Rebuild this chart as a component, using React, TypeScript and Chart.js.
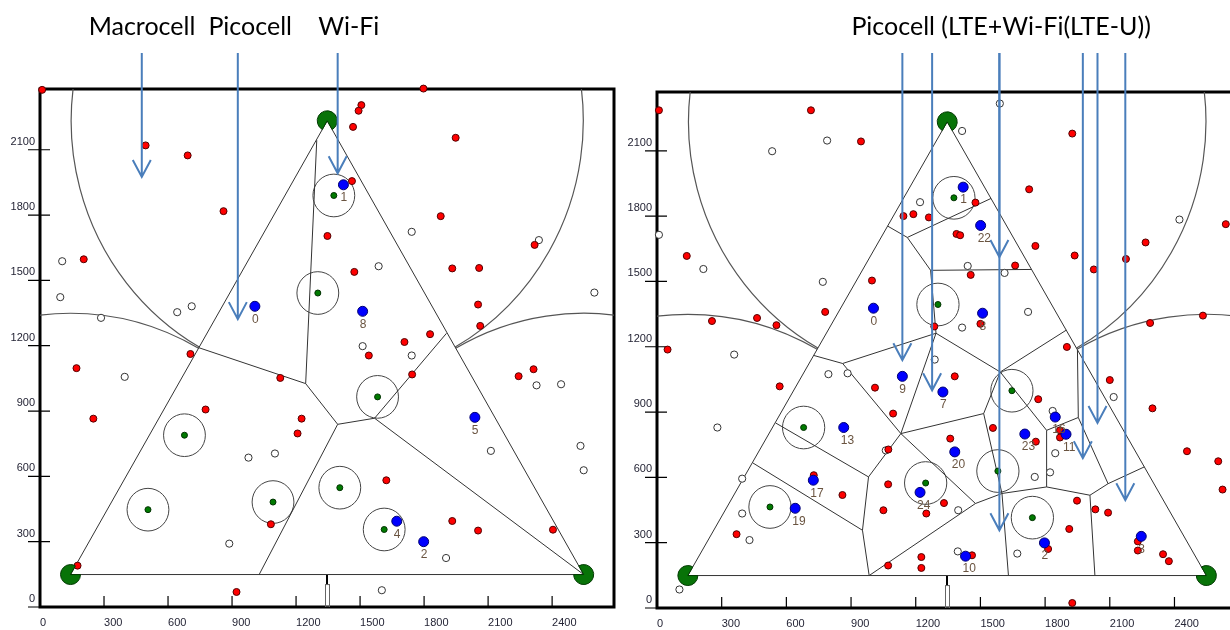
import React, { useEffect, useRef } from 'react';
import { Chart, registerables } from 'chart.js';

Chart.register(...registerables);

type Pt = [number, number];
type Seg = [number, number, number, number];

// ---------- shared axes / network geometry ----------
const xTickValues = [0, 300, 600, 900, 1200, 1500, 1800, 2100, 2400];
const yTickValues = [0, 300, 600, 900, 1200, 1500, 1800, 2100];

const macroX = [1346, 143, 2548];
const macroY = [2233, 149, 149];
const macroRange = 1200;
const macroArcFrom = [-60, 60, 0];
const macroArcTo = [240, 180, 120];
const picoRange = 98;

// ---------- left panel ----------
const leftRedUE: Pt[] = [
  [10, 2375], [495, 2120], [692, 2074], [860, 1818], [205, 1597], [705, 1162], [171, 1097], [1126, 1052],
  [250, 865], [776, 907], [1226, 865], [1207, 797], [1082, 380], [176, 190], [921, 69], [1797, 2381],
  [1506, 2305], [1493, 2279], [1467, 2205], [1948, 2155], [1462, 1956], [1878, 1795], [1347, 1704],
  [2318, 1663], [1473, 1539], [1932, 1555], [2058, 1557], [2053, 1389], [2063, 1291], [1828, 1253],
  [1708, 1217], [1541, 1155], [1744, 1068], [2243, 1060], [2313, 1092], [1623, 582], [1932, 395],
  [2053, 351], [2404, 355],
];
const leftWhiteUE: Pt[] = [
  [104, 1588], [95, 1423], [286, 1328], [643, 1354], [711, 1381], [397, 1057], [977, 686], [1101, 705],
  [887, 291], [1742, 1723], [2338, 1685], [1587, 1565], [2598, 1444], [1512, 1198], [1742, 1155],
  [2327, 1018], [2442, 1023], [2113, 717], [2533, 740], [2548, 628], [1903, 225], [1602, 77],
];
const leftWifi: Pt[] = [[1007, 1381], [1422, 1939], [1512, 1358], [2038, 871], [1672, 394], [1798, 300]];
const leftWifiLabels = ['0', '1', '8', '5', '4', '2'];
const leftPico: Pt[] = [
  [1377, 1890], [1302, 1442], [1582, 965], [677, 789], [506, 447], [1092, 482], [1405, 548], [1613, 356],
];
const leftEdges: Seg[] = [
  [1346, 2233, 143, 149], [1346, 2233, 2548, 149], [143, 149, 2548, 149],
  [744, 1191, 1245, 1026], [1297, 2144, 1245, 1026], [1245, 1026, 1395, 839], [1395, 839, 1568, 867],
  [1568, 867, 1905, 1257], [1568, 867, 2548, 149], [1395, 839, 1027, 149],
];
const leftTitles = ['Macrocell', 'Picocell', 'Wi-Fi'];
const leftTitleX = [478, 985, 1447];
const leftArrowX = [477, 927, 1395];
const leftArrowTipY = [1975, 1322, 1992];

// ---------- right panel ----------
const rightRedUE: Pt[] = [
  [9, 2286], [714, 2286], [946, 2143], [1143, 1800], [1189, 1809], [1261, 1794], [138, 1617], [997, 1504],
  [780, 1360], [255, 1318], [464, 1332], [554, 1299], [49, 1187], [569, 1018], [1011, 1012], [1095, 893],
  [727, 610], [860, 519], [1072, 568], [1050, 449], [369, 339], [1072, 195], [1226, 234], [1226, 184],
  [1249, 434], [1073, 728], [1926, 2179], [1726, 1923], [1477, 1862], [1389, 1718], [1406, 1712],
  [1755, 1663], [1937, 1619], [2266, 1679], [2175, 1603], [2026, 1555], [2638, 1763], [1455, 1530],
  [1661, 1573], [1500, 1305], [1286, 1293], [2287, 1309], [2532, 1343], [1901, 1199], [1381, 1064],
  [1768, 959], [2100, 1047], [2298, 917], [1869, 816], [1869, 783], [1757, 764], [2458, 720], [2603, 674],
  [2623, 544], [1558, 827], [1360, 778], [1331, 482], [1948, 493], [2033, 453], [2092, 438], [1912, 363],
  [1814, 271], [2230, 306], [2230, 264], [2347, 247], [2374, 215], [1461, 242], [1926, 23],
];
const rightWhiteUE: Pt[] = [
  [789, 2147], [534, 2098], [1220, 1864], [9, 1714], [215, 1557], [769, 1498], [358, 1164], [795, 1074],
  [884, 1078], [280, 829], [1061, 724], [395, 594], [395, 434], [429, 312], [104, 85], [1590, 2317],
  [1415, 2191], [2423, 1784], [1441, 1571], [1612, 1539], [1415, 1288], [1721, 1360], [1288, 1141],
  [2118, 969], [1835, 905], [1847, 711], [1823, 623], [1752, 602], [1397, 449], [1671, 250], [1395, 260],
];
const rightWifi: Pt[] = [
  [1004, 1377], [1420, 1933], [1510, 1354], [1501, 1757], [1138, 1064], [1326, 992], [866, 829], [725, 587],
  [641, 458], [1220, 531], [1381, 717], [1706, 799], [1847, 877], [1897, 798], [1431, 238], [1797, 299],
  [2246, 329],
];
const rightWifiLabels = ['0', '1', '8', '22', '9', '7', '13', '17', '19', '24', '20', '23', '16', '11', '10', '2', '3'];
const rightPico: Pt[] = [
  [1377, 1884], [1303, 1394], [680, 829], [524, 464], [1246, 574], [1646, 998], [1581, 629], [1741, 415],
];
const rightEdges: Seg[] = [
  [1346, 2233, 143, 149], [1346, 2233, 2548, 149], [143, 149, 2548, 149],
  [1070, 1754, 1161, 1702], [1161, 1702, 1549, 1881], [1161, 1702, 1269, 1551], [1269, 1551, 1737, 1555],
  [1269, 1551, 1294, 1262], [1294, 1262, 861, 1123], [1294, 1262, 1592, 1084], [1294, 1262, 1131, 801],
  [861, 1123, 727, 1160], [861, 1123, 1131, 801], [1131, 801, 1515, 893], [1131, 801, 981, 602],
  [1131, 801, 1477, 480], [981, 602, 550, 850], [981, 602, 953, 357], [953, 357, 445, 666],
  [953, 357, 984, 149], [984, 149, 1477, 480], [1477, 480, 1600, 526], [1515, 893, 1600, 526],
  [1515, 893, 1592, 1084], [1600, 526, 1630, 149], [1600, 526, 1807, 556], [1807, 556, 1807, 816],
  [1807, 556, 2008, 518], [1807, 816, 1592, 1084], [1807, 816, 1954, 875], [1592, 1084, 1898, 1276],
  [2008, 518, 2031, 149], [2008, 518, 2092, 571], [2092, 571, 1954, 875], [2092, 571, 2260, 648],
  [1954, 875, 1950, 1185],
];
const rightTitles = ['Picocell (LTE+Wi-Fi(LTE-U))'];
const rightTitleX = [1596];
const rightArrowX = [1138, 1276, 1588, 1588, 1975, 2043, 2172];
const rightArrowTipY = [1138, 1000, 1612, 357, 688, 850, 495];

// ---------- styling ----------
const TICK_FONT = "'Liberation Sans', Arial, sans-serif";
const TITLE_FONT = "Lato, 'Open Sans', sans-serif";
const TICK_COLOR = '#252536';
const LABEL_COLOR = '#6a5440';
const ARROW_COLOR = '#4a7ebb';
const D2R = Math.PI / 180;

interface Panel {
  red: Pt[];
  white: Pt[];
  wifi: Pt[];
  wifiLabels: string[];
  pico: Pt[];
  edges: Seg[];
  titles: string[];
  titleX: number[];
  arrowX: number[];
  arrowTipY: number[];
  xMax: number;
  yMax: number;
  canvasWidth: number;
  padTop: number;
  yAxisWidth: number;
  xAxisHeight: number;
  left: number;
}

const leftPanel: Panel = {
  red: leftRedUE, white: leftWhiteUE, wifi: leftWifi, wifiLabels: leftWifiLabels, pico: leftPico,
  edges: leftEdges, titles: leftTitles, titleX: leftTitleX, arrowX: leftArrowX, arrowTipY: leftArrowTipY,
  xMax: 2690, yMax: 2379, canvasWidth: 620, padTop: 89, yAxisWidth: 40, xAxisHeight: 23, left: 0,
};
const rightPanel: Panel = {
  red: rightRedUE, white: rightWhiteUE, wifi: rightWifi, wifiLabels: rightWifiLabels, pico: rightPico,
  edges: rightEdges, titles: rightTitles, titleX: rightTitleX, arrowX: rightArrowX, arrowTipY: rightArrowTipY,
  xMax: 2690, yMax: 2370, canvasWidth: 623, padTop: 92, yAxisWidth: 37, xAxisHeight: 22, left: 620,
};

function toXY(pts: Pt[]) {
  return pts.map(([x, y]) => ({ x, y }));
}
function segData(segs: Seg[]) {
  const out: any[] = [];
  segs.forEach(([x1, y1, x2, y2]) => {
    out.push({ x: x1, y: y1 }, { x: x2, y: y2 }, { x: null, y: null });
  });
  return out;
}

function makeOverlay(p: Panel) {
  return {
    id: 'netOverlay',
    beforeDatasetsDraw(chart: any) {
      const { ctx, chartArea: ca } = chart;
      const xs = chart.scales.x;
      const ys = chart.scales.y;
      const X = (v: number) => xs.getPixelForValue(v);
      const Y = (v: number) => ys.getPixelForValue(v);
      const sx = (X(1000) - X(0)) / 1000;
      const sy = (Y(0) - Y(1000)) / 1000;
      ctx.save();
      // tick marks
      ctx.strokeStyle = '#000';
      ctx.lineWidth = 1.2;
      ctx.beginPath();
      for (const v of yTickValues) {
        const y = Y(v);
        ctx.moveTo(ca.left - 12, y);
        ctx.lineTo(ca.left + 10, y);
      }
      for (const v of xTickValues) {
        const x = X(v);
        ctx.moveTo(x, ca.bottom - 11);
        ctx.lineTo(x, ca.bottom);
      }
      ctx.stroke();
      // frame
      ctx.lineWidth = 3;
      ctx.strokeRect(ca.left, ca.top, ca.right - ca.left, ca.bottom - ca.top);
      // clip to plot area
      ctx.beginPath();
      ctx.rect(ca.left, ca.top, ca.right - ca.left, ca.bottom - ca.top);
      ctx.clip();
      // macrocell range arcs
      ctx.strokeStyle = '#555';
      ctx.lineWidth = 1.2;
      macroX.forEach((mx, i) => {
        ctx.beginPath();
        ctx.ellipse(X(mx), Y(macroY[i]), macroRange * sx, macroRange * sy, 0,
          -macroArcTo[i] * D2R, -macroArcFrom[i] * D2R, false);
        ctx.stroke();
      });
      // picocell range circles
      ctx.strokeStyle = '#444';
      ctx.lineWidth = 1;
      for (const [cx, cy] of p.pico) {
        ctx.beginPath();
        ctx.ellipse(X(cx), Y(cy), picoRange * sx, picoRange * sy, 0, 0, 2 * Math.PI);
        ctx.stroke();
      }
      // antenna mark under top macro
      const ax = Math.round(X(macroX[0]));
      const yb = Y(macroY[1]);
      ctx.strokeStyle = '#000';
      ctx.lineWidth = 2;
      ctx.beginPath();
      ctx.moveTo(ax, yb);
      ctx.lineTo(ax, yb + 10);
      ctx.stroke();
      ctx.strokeStyle = '#666';
      ctx.lineWidth = 1;
      ctx.strokeRect(ax - 2 + 0.5, yb + 10, 4, ca.bottom - yb - 10);
      ctx.restore();
    },
    afterDatasetsDraw(chart: any) {
      const { ctx } = chart;
      const xs = chart.scales.x;
      const ys = chart.scales.y;
      const X = (v: number) => xs.getPixelForValue(v);
      const Y = (v: number) => ys.getPixelForValue(v);
      ctx.save();
      // macro base stations (sector markers)
      const pts = macroX.map((mx, i) => [X(mx), Y(macroY[i])]);
      ctx.fillStyle = '#087308';
      ctx.strokeStyle = '#033a03';
      ctx.lineWidth = 1;
      pts.forEach(([cx, cy], i) => {
        const others = pts.filter((_, j) => j !== i);
        const a1 = Math.atan2(others[0][1] - cy, others[0][0] - cx);
        const a2 = Math.atan2(others[1][1] - cy, others[1][0] - cx);
        let d = a2 - a1;
        while (d <= -Math.PI) d += 2 * Math.PI;
        while (d > Math.PI) d -= 2 * Math.PI;
        const lo = d > 0 ? a1 : a2;
        const span = Math.abs(d);
        ctx.beginPath();
        ctx.moveTo(cx, cy);
        ctx.arc(cx, cy, 10, lo + span, lo + 2 * Math.PI);
        ctx.closePath();
        ctx.fill();
        ctx.stroke();
      });
      // AP labels
      ctx.fillStyle = LABEL_COLOR;
      ctx.font = `12px ${TICK_FONT}`;
      ctx.textAlign = 'left';
      ctx.textBaseline = 'middle';
      p.wifi.forEach(([x, y], i) => {
        ctx.fillText(p.wifiLabels[i], X(x) - 3, Y(y) + 13);
      });
      // titles
      ctx.fillStyle = '#000';
      ctx.font = `25px ${TITLE_FONT}`;
      ctx.textAlign = 'center';
      ctx.textBaseline = 'alphabetic';
      p.titles.forEach((t, i) => ctx.fillText(t, X(p.titleX[i]), 35));
      // arrows
      ctx.strokeStyle = ARROW_COLOR;
      ctx.lineWidth = 2;
      p.arrowX.forEach((ax, i) => {
        const x = X(ax);
        const tip = Y(p.arrowTipY[i]);
        ctx.beginPath();
        ctx.moveTo(x, 53);
        ctx.lineTo(x, tip);
        ctx.moveTo(x - 9, tip - 17);
        ctx.lineTo(x, tip);
        ctx.lineTo(x + 9, tip - 17);
        ctx.stroke();
      });
      ctx.restore();
    },
  };
}

function PanelChart({ p }: { p: Panel }) {
  const ref = useRef<HTMLCanvasElement>(null);
  useEffect(() => {
    const canvas = ref.current;
    if (!canvas) return;
    const tickFont = { family: TICK_FONT, size: 11 };
    const chart = new Chart(canvas, {
      type: 'scatter',
      data: {
        datasets: [
          {
            label: 'Picocell', data: toXY(p.pico), order: 1, clip: false as any,
            pointRadius: 3, pointBackgroundColor: '#007a00', pointBorderColor: '#023202', pointBorderWidth: 1,
          },
          {
            label: 'Wi-Fi AP', data: toXY(p.wifi), order: 2, clip: false as any,
            pointRadius: 5, pointBackgroundColor: '#0000ff', pointBorderColor: '#000070', pointBorderWidth: 1,
          },
          {
            label: 'UE (LTE)', data: toXY(p.red), order: 3, clip: false as any,
            pointRadius: 3.5, pointBackgroundColor: '#ff0000', pointBorderColor: '#520000', pointBorderWidth: 1,
          },
          {
            label: 'UE (Wi-Fi)', data: toXY(p.white), order: 4, clip: false as any,
            pointRadius: 3.6, pointBackgroundColor: '#ffffff', pointBorderColor: '#333333', pointBorderWidth: 1,
          },
          {
            type: 'line' as any, label: 'Cell borders', data: segData(p.edges), order: 9,
            showLine: true, spanGaps: false, pointRadius: 0, borderColor: '#333', borderWidth: 1,
            backgroundColor: 'transparent', fill: false,
          } as any,
        ],
      },
      options: {
        responsive: false,
        animation: false,
        devicePixelRatio: 1,
        events: [],
        layout: { padding: { top: p.padTop, right: 3, left: 0, bottom: 0 } },
        plugins: { legend: { display: false }, tooltip: { enabled: false }, title: { display: false } },
        scales: {
          x: {
            type: 'linear', min: 0, max: p.xMax,
            afterBuildTicks: (s: any) => { s.ticks = xTickValues.map((v) => ({ value: v })); },
            afterFit: (s: any) => { s.height = p.xAxisHeight; },
            grid: { display: false, drawTicks: false },
            border: { display: false },
            ticks: {
              align: 'start', padding: 9, color: TICK_COLOR, font: tickFont,
              maxRotation: 0, minRotation: 0, autoSkip: false, callback: (v: any) => String(v),
            },
          },
          y: {
            type: 'linear', min: 0, max: p.yMax,
            afterBuildTicks: (s: any) => { s.ticks = yTickValues.map((v) => ({ value: v })); },
            afterFit: (s: any) => { s.width = p.yAxisWidth; },
            grid: { display: false, drawTicks: false },
            border: { display: false },
            ticks: {
              padding: 5, labelOffset: -8, color: TICK_COLOR, font: tickFont,
              autoSkip: false, callback: (v: any) => String(v),
            },
          },
        },
      } as any,
      plugins: [makeOverlay(p)],
    });
    return () => chart.destroy();
  }, [p]);
  return (
    <canvas
      ref={ref}
      width={p.canvasWidth}
      height={630}
      style={{ position: 'absolute', left: p.left, top: 0, width: p.canvasWidth, height: 630 }}
    />
  );
}

export default function App() {
  return (
    <div
      style={{
        position: 'absolute', left: 0, top: 0, width: 1230, height: 630,
        overflow: 'hidden', background: '#ffffff',
      }}
    >
      <PanelChart p={leftPanel} />
      <PanelChart p={rightPanel} />
    </div>
  );
}
